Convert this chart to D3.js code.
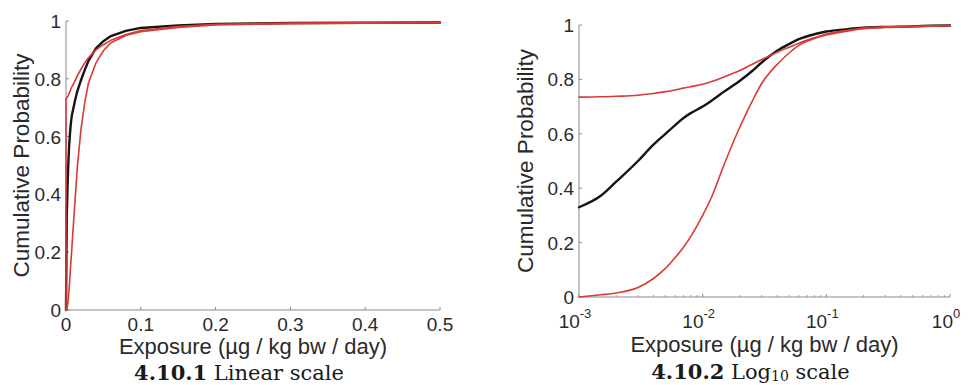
<!DOCTYPE html>
<html>
<head>
<meta charset="utf-8">
<script src="https://cdn.jsdelivr.net/npm/d3@7"></script>
<style>
  html, body { margin: 0; padding: 0; background: #fff; }
  svg { display: block; }
</style>
</head>
<body>
<svg id="chart" width="968" height="385"></svg>
<script>
// Exposure grid (µg / kg bw / day) and cumulative probabilities
const exposure   = [0, 0, 0.001, 0.0015, 0.002, 0.003, 0.004, 0.005, 0.006, 0.007, 0.008, 0.01, 0.012, 0.015, 0.02, 0.025, 0.03, 0.04, 0.05, 0.06, 0.08, 0.1, 0.15, 0.2, 0.3, 0.5, 0.7, 1.0];
const empirical  = [0, 0, 0.33, 0.372, 0.424, 0.50, 0.56, 0.60, 0.632, 0.658, 0.676, 0.70, 0.724, 0.756, 0.795, 0.83, 0.862, 0.905, 0.93, 0.948, 0.966, 0.976, 0.985, 0.99, 0.993, 0.995, 0.997, 0.998];
const upperBound = [0, 0.73, 0.735, 0.736, 0.738, 0.742, 0.748, 0.755, 0.761, 0.768, 0.773, 0.782, 0.793, 0.81, 0.833, 0.855, 0.873, 0.9, 0.918, 0.933, 0.953, 0.967, 0.981, 0.989, 0.993, 0.995, 0.997, 0.998];
const lowerBound = [0, 0, 0, 0.008, 0.015, 0.035, 0.068, 0.105, 0.145, 0.183, 0.222, 0.30, 0.375, 0.49, 0.625, 0.717, 0.785, 0.855, 0.897, 0.925, 0.95, 0.963, 0.978, 0.986, 0.991, 0.994, 0.996, 0.998];

const yTicks = [0, 0.2, 0.4, 0.6, 0.8, 1];
const yTickLabels = ["0", "0.2", "0.4", "0.6", "0.8", "1"];
const linTicks = [0, 0.1, 0.2, 0.3, 0.4, 0.5];
const linTickLabels = ["0", "0.1", "0.2", "0.3", "0.4", "0.5"];
const logTicks = [0.001, 0.01, 0.1, 1];
const logTickExponents = ["-3", "-2", "-1", "0"];
const yLabel = "Cumulative Probability";
const xLabel = "Exposure (µg / kg bw / day)";

const svg = d3.select("#chart");
const axisColor = "#8a8a8a";
const textColor = "#2a2a2a";
const red = "#db3a36";
const black = "#151515";
const sans = "Arial, 'Liberation Sans', sans-serif";

const series = [
  {vals: empirical, color: black, width: 2.4},
  {vals: upperBound, color: red, width: 1.6},
  {vals: lowerBound, color: red, width: 1.6}
];

function drawPanel(cfg) {
  const g = svg.append("g");
  const x = cfg.x, y = cfg.y;
  const [x0, x1] = x.range();
  const [y0, y1] = y.range();

  g.append("line").attr("x1", x0).attr("x2", x0).attr("y1", y0).attr("y2", y1)
    .attr("stroke", axisColor).attr("stroke-width", 1);
  g.append("line").attr("x1", x0).attr("x2", x1).attr("y1", y0).attr("y2", y0)
    .attr("stroke", axisColor).attr("stroke-width", 1);

  yTicks.forEach((t, i) => {
    g.append("line").attr("x1", x0).attr("x2", x0 + 3).attr("y1", y(t)).attr("y2", y(t))
      .attr("stroke", axisColor);
    g.append("text").attr("x", x0 - 5).attr("y", y(t) + 7)
      .attr("text-anchor", "end").attr("font-family", sans).attr("font-size", 19)
      .attr("fill", textColor).text(yTickLabels[i]);
  });

  cfg.xTicks.forEach((t, i) => {
    g.append("line").attr("x1", x(t)).attr("x2", x(t)).attr("y1", y0).attr("y2", y0 - 3)
      .attr("stroke", axisColor);
    cfg.xLabelFn(g, x(t), i);
  });
  if (cfg.minor) {
    cfg.minor.forEach(t => {
      g.append("line").attr("x1", x(t)).attr("x2", x(t)).attr("y1", y0).attr("y2", y0 - 2)
        .attr("stroke", axisColor).attr("stroke-width", 0.8);
    });
  }

  const pts = exposure.map((e, i) => i).filter(i => cfg.keep(exposure[i]));
  series.forEach(s => {
    const line = d3.line()
      .x(i => x(exposure[i]))
      .y(i => y(s.vals[i]))
      .curve(cfg.curve);
    g.append("path").datum(pts).attr("d", line)
      .attr("fill", "none").attr("stroke", s.color).attr("stroke-width", s.width)
      .attr("stroke-linejoin", "round").attr("stroke-linecap", "round");
  });

  g.append("text")
    .attr("transform", `translate(${cfg.yLabelX},${(y0 + y1) / 2}) rotate(-90)`)
    .attr("text-anchor", "middle").attr("font-family", sans).attr("font-size", 22.5)
    .attr("fill", textColor).text(yLabel);
  g.append("text").attr("x", (x0 + x1) / 2).attr("y", cfg.xLabelY)
    .attr("text-anchor", "middle").attr("font-family", sans).attr("font-size", 22)
    .attr("fill", textColor).text(xLabel);

  const cap = g.append("text").attr("x", (x0 + x1) / 2 - 14).attr("y", cfg.captionY)
    .attr("text-anchor", "middle").attr("font-family", "'DejaVu Serif', serif")
    .attr("font-size", 21).attr("fill", "#1a1a1a");
  cfg.caption(cap);
}

drawPanel({
  x: d3.scaleLinear().domain([0, 0.5]).range([66, 440]),
  y: d3.scaleLinear().domain([0, 1]).range([310, 21]),
  xTicks: linTicks,
  xLabelFn: (g, px, i) => {
    g.append("text").attr("x", px).attr("y", 331).attr("text-anchor", "middle")
      .attr("font-family", sans).attr("font-size", 19).attr("fill", textColor)
      .text(linTickLabels[i]);
  },
  keep: e => e <= 0.5,
  curve: d3.curveLinear,
  yLabelX: 29,
  xLabelY: 354,
  captionY: 380,
  caption: t => {
    t.append("tspan").attr("font-weight", "bold").text("4.10.1");
    t.append("tspan").text(" Linear scale");
  }
});

const minorTicks = [];
[0.001, 0.01, 0.1].forEach(d => { for (let k = 2; k <= 9; k++) minorTicks.push(d * k); });
drawPanel({
  x: d3.scaleLog().domain([0.001, 1]).range([579, 950]),
  y: d3.scaleLinear().domain([0, 1]).range([297, 25]),
  xTicks: logTicks,
  minor: minorTicks,
  xLabelFn: (g, px, i) => {
    const t = g.append("text").attr("x", px - 4).attr("y", 328).attr("text-anchor", "middle")
      .attr("font-family", sans).attr("font-size", 19).attr("fill", textColor);
    t.append("tspan").text("10");
    t.append("tspan").attr("dy", -10).attr("font-size", 13).text(logTickExponents[i]);
  },
  keep: e => e >= 0.001,
  curve: d3.curveMonotoneX,
  yLabelX: 533,
  xLabelY: 352,
  captionY: 379,
  caption: t => {
    t.append("tspan").attr("font-weight", "bold").text("4.10.2");
    t.append("tspan").text(" Log");
    t.append("tspan").attr("dy", 2).attr("font-size", 14).text("10");
    t.append("tspan").attr("dy", -2).text(" scale");
  }
});
</script>
</body>
</html>
